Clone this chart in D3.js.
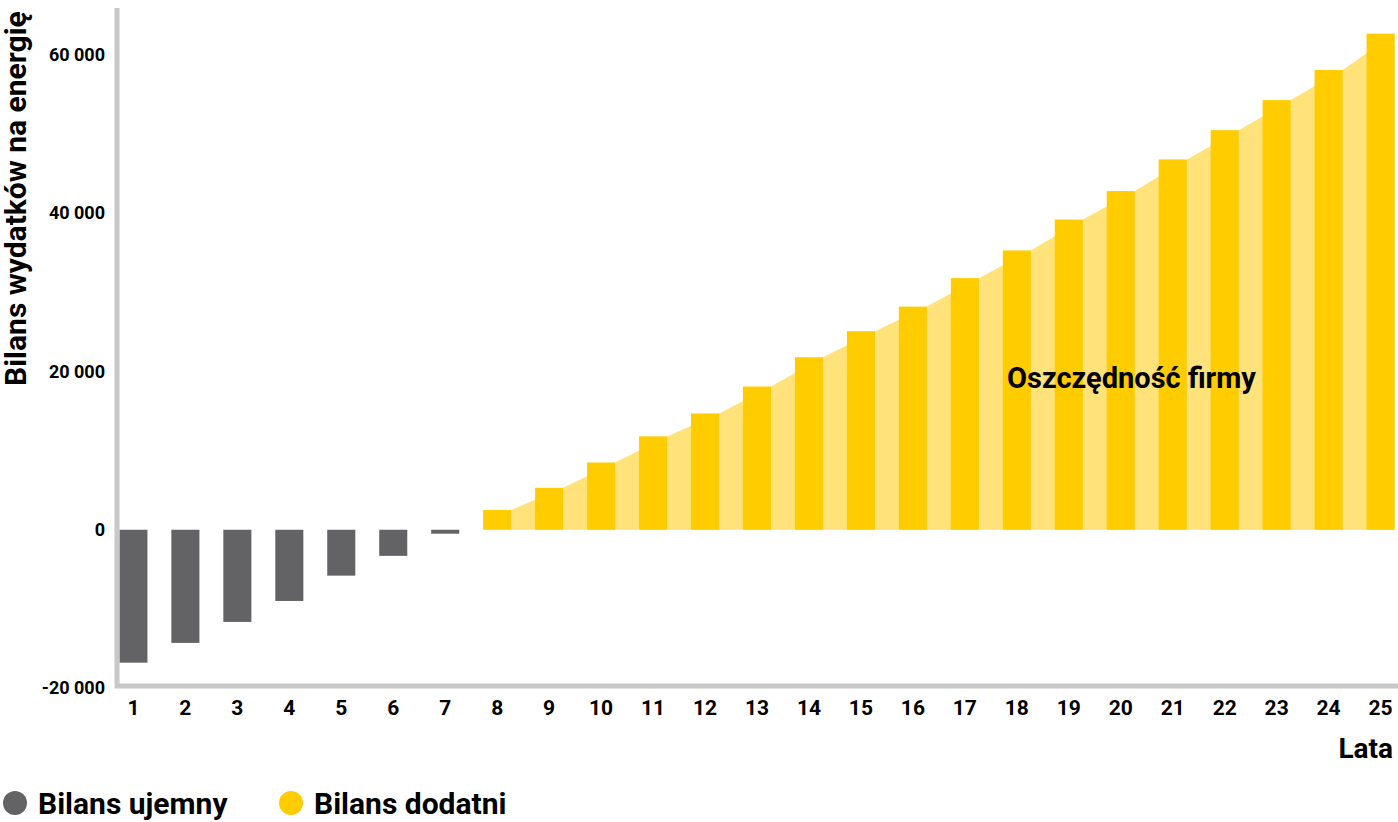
<!DOCTYPE html>
<html><head><meta charset="utf-8">
<script src="https://cdn.jsdelivr.net/npm/d3@7"></script>
<style>body{margin:0;background:#fff}text{font-family:Roboto,sans-serif;font-weight:700}</style>
</head><body><svg id="c" width="1398" height="822"></svg>
<script>
const years = d3.range(1,26);
const balance = [-16800,-14300,-11650,-9000,-5800,-3300,-500,2500,5300,8500,11800,14700,18100,21800,25100,28200,31800,35300,39200,42800,46800,50500,54300,58100,62700];
const yTicks = [-20000,0,20000,40000,60000];
const legendLabels = ["Bilans ujemny","Bilans dodatni"];
const grey="#636366", yellow="#FFCC00", light="#FFE27A";
const svg=d3.select("#c");
const x=d3.scaleBand().domain(years).range([109,1405]).paddingInner(0.46).paddingOuter(0.2);
const y=d3.scaleLinear().domain([-20000,60000]).range([688,55]);
const pos=years.map((d,i)=>({d,v:balance[i]})).filter(p=>p.v>0);
const pts=[[x(pos[0].d)+x.bandwidth(),y(0)]];
pos.forEach(p=>{pts.push([x(p.d)+x.bandwidth(),y(p.v)]);});
pts.push([x(pos[pos.length-1].d)+x.bandwidth(),y(0)]);
svg.append("path").attr("d",d3.line()(pts)).attr("fill",light);
svg.selectAll("rect.b").data(years).join("rect").attr("x",d=>x(d)).attr("width",x.bandwidth())
 .attr("y",(d,i)=>y(Math.max(0,balance[i]))).attr("height",(d,i)=>Math.abs(y(balance[i])-y(0)))
 .attr("fill",(d,i)=>balance[i]<0?grey:yellow);
svg.append("line").attr("x1",117).attr("x2",117).attr("y1",8).attr("y2",688).attr("stroke","#c8c8c8").attr("stroke-width",5);
svg.append("line").attr("x1",115).attr("x2",1398).attr("y1",686).attr("y2",686).attr("stroke","#c8c8c8").attr("stroke-width",5);
const fmt=v=>d3.format(",")(v).replace(/,/g," ").replace("−","-");
svg.selectAll("text.yt").data(yTicks).join("text").attr("x",105).attr("y",d=>y(d)+6).attr("text-anchor","end").attr("font-size",18).text(d=>fmt(d));
svg.selectAll("text.xt").data(years).join("text").attr("x",d=>x(d)+x.bandwidth()/2).attr("y",715).attr("text-anchor","middle").attr("font-size",21).text(d=>d);
svg.append("text").attr("transform","translate(26,386) rotate(-90)").attr("font-size",30).text("Bilans wydatków na energię");
svg.append("text").attr("x",1393).attr("y",758).attr("text-anchor","end").attr("font-size",28).text("Lata");
svg.append("text").attr("x",1007).attr("y",388).attr("font-size",29).text("Oszczędność firmy");
const lg=[[15,grey],[291,yellow]];
lg.forEach((l,i)=>{svg.append("circle").attr("cx",l[0]).attr("cy",803).attr("r",12).attr("fill",l[1]);
 svg.append("text").attr("x",l[0]+23).attr("y",814).attr("font-size",30).text(legendLabels[i]);});
</script></body></html>
